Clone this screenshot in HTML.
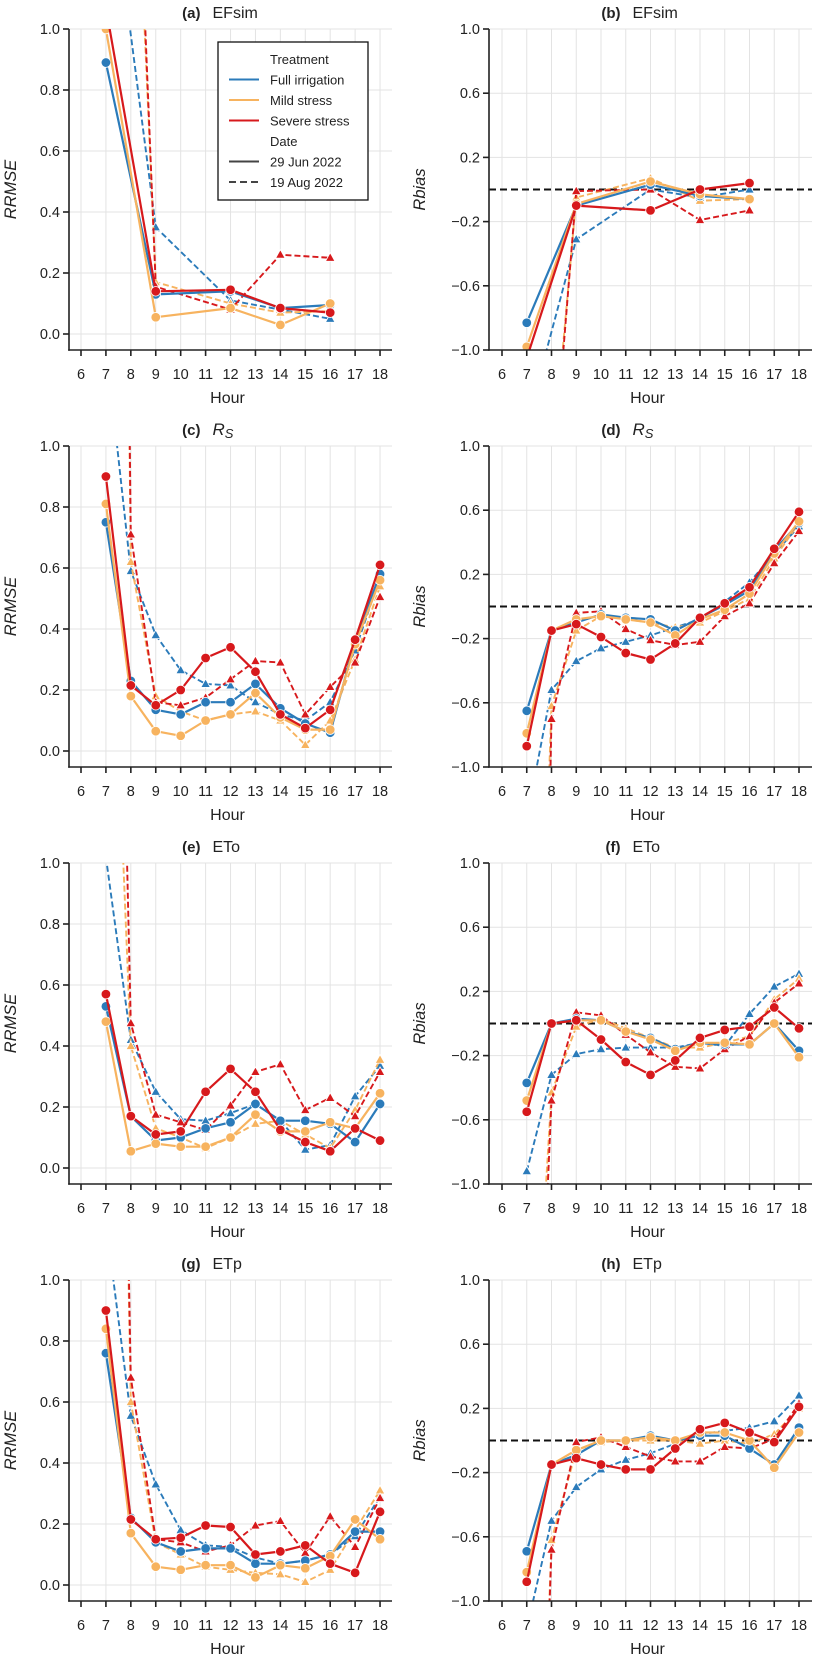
<!DOCTYPE html>
<html><head><meta charset="utf-8"><style>
html,body{margin:0;padding:0;background:#fff;width:816px;height:1664px;overflow:hidden}
svg{display:block}
text{font-family:"Liberation Sans",sans-serif;fill:#222}
</style></head><body>
<svg id="fig" width="816" height="1664" viewBox="0 0 816 1664" xmlns="http://www.w3.org/2000/svg" overflow="hidden"></svg>
<script>
// ---------- data ----------
const hoursEF = [7, 9, 12, 14, 16];
const hoursAll = [7, 8, 9, 10, 11, 12, 13, 14, 15, 16, 17, 18];
const xTicks = [6, 7, 8, 9, 10, 11, 12, 13, 14, 15, 16, 17, 18];
const rmseTicks = [0.0, 0.2, 0.4, 0.6, 0.8, 1.0];
const rmseTickLabels = ["0.0", "0.2", "0.4", "0.6", "0.8", "1.0"];
const biasTicks = [-1.0, -0.6, -0.2, 0.2, 0.6, 1.0];
const biasTickLabels = ["\u22121.0", "\u22120.6", "\u22120.2", "0.2", "0.6", "1.0"];
const treatments = ["Full irrigation", "Mild stress", "Severe stress"];
const dates = ["29 Jun 2022", "19 Aug 2022"];

// (a) EFsim RRMSE
const aFullJun = [0.89, 0.13, 0.14, 0.085, 0.095];
const aMildJun = [1.0, 0.055, 0.085, 0.03, 0.10];
const aSevJun = [1.07, 0.14, 0.145, 0.085, 0.07];
const aFullAug = [1.61, 0.35, 0.11, 0.08, 0.05];
const aMildAug = [3.86, 0.17, 0.10, 0.07, 0.075];
const aSevAug = [4.18, 0.155, 0.08, 0.26, 0.25];
// (b) EFsim Rbias
const bFullJun = [-0.83, -0.10, 0.03, -0.04, -0.06];
const bMildJun = [-0.98, -0.09, 0.05, -0.03, -0.06];
const bSevJun = [-1.05, -0.10, -0.13, 0.0, 0.04];
const bFullAug = [-1.46, -0.31, 0.0, -0.05, 0.0];
const bMildAug = [-3.5, -0.05, 0.07, -0.07, -0.06];
const bSevAug = [-3.8, -0.01, 0.0, -0.19, -0.13];
// (c) Rs RRMSE
const cFullJun = [0.75, 0.23, 0.135, 0.12, 0.16, 0.16, 0.22, 0.14, 0.09, 0.06, 0.36, 0.58];
const cMildJun = [0.81, 0.18, 0.065, 0.05, 0.10, 0.12, 0.19, 0.11, 0.07, 0.07, 0.35, 0.56];
const cSevJun = [0.90, 0.215, 0.15, 0.20, 0.305, 0.34, 0.26, 0.12, 0.075, 0.135, 0.365, 0.61];
const cFullAug = [1.335, 0.59, 0.38, 0.265, 0.22, 0.215, 0.16, 0.12, 0.10, 0.16, 0.33, 0.57];
const cMildAug = [8.0, 0.62, 0.18, 0.13, 0.10, 0.12, 0.13, 0.10, 0.02, 0.10, 0.30, 0.54];
const cSevAug = [8.0, 0.71, 0.16, 0.15, 0.175, 0.235, 0.295, 0.29, 0.12, 0.21, 0.29, 0.505];
// (d) Rs Rbias
const dFullJun = [-0.65, -0.15, -0.10, -0.05, -0.07, -0.08, -0.15, -0.07, 0.01, 0.10, 0.35, 0.52];
const dMildJun = [-0.79, -0.15, -0.08, -0.06, -0.08, -0.10, -0.18, -0.08, -0.02, 0.08, 0.33, 0.53];
const dSevJun = [-0.87, -0.15, -0.11, -0.19, -0.29, -0.33, -0.23, -0.07, 0.02, 0.12, 0.36, 0.59];
const dFullAug = [-1.32, -0.52, -0.34, -0.26, -0.22, -0.18, -0.13, -0.08, 0.03, 0.15, 0.33, 0.50];
const dMildAug = [-5.0, -0.62, -0.15, -0.06, -0.08, -0.10, -0.13, -0.10, -0.03, 0.05, 0.30, 0.52];
const dSevAug = [-8.0, -0.70, -0.04, -0.03, -0.14, -0.21, -0.24, -0.22, -0.06, 0.02, 0.27, 0.47];
// (e) ETo RRMSE
const eFullJun = [0.53, 0.17, 0.09, 0.10, 0.13, 0.15, 0.21, 0.155, 0.155, 0.145, 0.085, 0.21];
const eMildJun = [0.48, 0.055, 0.08, 0.07, 0.07, 0.10, 0.175, 0.12, 0.12, 0.15, 0.13, 0.245];
const eSevJun = [0.57, 0.17, 0.11, 0.12, 0.25, 0.325, 0.25, 0.125, 0.085, 0.055, 0.13, 0.09];
const eFullAug = [1.02, 0.42, 0.25, 0.16, 0.155, 0.18, 0.21, 0.155, 0.06, 0.075, 0.235, 0.335];
const eMildAug = [2.4, 0.40, 0.13, 0.10, 0.065, 0.10, 0.145, 0.155, 0.11, 0.065, 0.19, 0.355];
const eSevAug = [4.0, 0.475, 0.175, 0.15, 0.125, 0.205, 0.315, 0.34, 0.19, 0.23, 0.17, 0.315];
// (f) ETo Rbias
const fFullJun = [-0.37, 0.0, 0.03, 0.02, -0.05, -0.09, -0.16, -0.12, -0.13, -0.13, 0.0, -0.17];
const fMildJun = [-0.48, 0.0, 0.02, 0.02, -0.05, -0.10, -0.17, -0.12, -0.12, -0.13, 0.0, -0.21];
const fSevJun = [-0.55, 0.0, 0.02, -0.10, -0.24, -0.32, -0.23, -0.09, -0.04, -0.02, 0.10, -0.03];
const fFullAug = [-0.92, -0.32, -0.19, -0.16, -0.15, -0.15, -0.15, -0.12, -0.14, 0.06, 0.23, 0.31];
const fMildAug = [-3.0, -0.43, -0.02, 0.03, -0.03, -0.09, -0.15, -0.15, -0.12, -0.08, 0.15, 0.28];
const fSevAug = [-4.0, -0.48, 0.07, 0.05, -0.07, -0.18, -0.27, -0.28, -0.16, -0.08, 0.13, 0.25];
// (g) ETp RRMSE
const gFullJun = [0.76, 0.22, 0.14, 0.11, 0.12, 0.12, 0.07, 0.07, 0.08, 0.10, 0.175, 0.175];
const gMildJun = [0.84, 0.17, 0.06, 0.05, 0.065, 0.065, 0.025, 0.065, 0.055, 0.095, 0.215, 0.15];
const gSevJun = [0.90, 0.215, 0.15, 0.155, 0.195, 0.19, 0.10, 0.11, 0.13, 0.07, 0.04, 0.24];
const gFullAug = [1.19, 0.555, 0.33, 0.18, 0.13, 0.125, 0.09, 0.07, 0.08, 0.10, 0.16, 0.29];
const gMildAug = [5.0, 0.60, 0.14, 0.10, 0.06, 0.05, 0.04, 0.035, 0.01, 0.05, 0.18, 0.31];
const gSevAug = [5.0, 0.68, 0.15, 0.14, 0.11, 0.13, 0.195, 0.21, 0.105, 0.225, 0.125, 0.285];
// (h) ETp Rbias
const hFullJun = [-0.69, -0.15, -0.09, 0.0, 0.0, 0.03, 0.0, 0.03, 0.03, -0.05, -0.15, 0.08];
const hMildJun = [-0.82, -0.15, -0.06, 0.0, 0.0, 0.02, 0.0, 0.05, 0.05, 0.0, -0.17, 0.05];
const hSevJun = [-0.88, -0.15, -0.11, -0.15, -0.18, -0.18, -0.05, 0.07, 0.11, 0.05, -0.01, 0.21];
const hFullAug = [-1.17, -0.50, -0.29, -0.18, -0.12, -0.08, -0.02, 0.04, 0.06, 0.08, 0.12, 0.28];
const hMildAug = [-5.0, -0.62, -0.06, -0.01, 0.0, 0.0, 0.0, -0.02, 0.0, -0.02, 0.04, 0.20];
const hSevAug = [-5.0, -0.68, -0.01, 0.02, -0.04, -0.10, -0.13, -0.13, -0.04, -0.05, 0.01, 0.23];

// ---------- drawing ----------
const NS = "http://www.w3.org/2000/svg";
const svg = document.getElementById("fig");
const COLORS = ["#2b7bba", "#f7b35f", "#d7191c"];
function mk(tag, attrs, parent) {
  const e = document.createElementNS(NS, tag);
  for (const k in attrs) e.setAttribute(k, attrs[k]);
  (parent || svg).appendChild(e);
  return e;
}
const panelDefs = [
  {lab: "(a)", ttl: "EFsim", kind: "rmse", col: 0, row: 0, hrs: hoursEF, s: [aFullJun, aMildJun, aSevJun, aFullAug, aMildAug, aSevAug], legend: true},
  {lab: "(b)", ttl: "EFsim", kind: "bias", col: 1, row: 0, hrs: hoursEF, s: [bFullJun, bMildJun, bSevJun, bFullAug, bMildAug, bSevAug]},
  {lab: "(c)", ttl: "RS", kind: "rmse", col: 0, row: 1, hrs: hoursAll, s: [cFullJun, cMildJun, cSevJun, cFullAug, cMildAug, cSevAug]},
  {lab: "(d)", ttl: "RS", kind: "bias", col: 1, row: 1, hrs: hoursAll, s: [dFullJun, dMildJun, dSevJun, dFullAug, dMildAug, dSevAug]},
  {lab: "(e)", ttl: "ETo", kind: "rmse", col: 0, row: 2, hrs: hoursAll, s: [eFullJun, eMildJun, eSevJun, eFullAug, eMildAug, eSevAug]},
  {lab: "(f)", ttl: "ETo", kind: "bias", col: 1, row: 2, hrs: hoursAll, s: [fFullJun, fMildJun, fSevJun, fFullAug, fMildAug, fSevAug]},
  {lab: "(g)", ttl: "ETp", kind: "rmse", col: 0, row: 3, hrs: hoursAll, s: [gFullJun, gMildJun, gSevJun, gFullAug, gMildAug, gSevAug]},
  {lab: "(h)", ttl: "ETp", kind: "bias", col: 1, row: 3, hrs: hoursAll, s: [hFullJun, hMildJun, hSevJun, hFullAug, hMildAug, hSevAug]}
];

panelDefs.forEach((p, pi) => {
  const left = p.col === 0 ? 69 : 489;
  const right = p.col === 0 ? 392 : 812;
  const x6 = p.col === 0 ? 81 : 502;
  const xStep = p.col === 0 ? 24.92 : 24.75;
  const top = 29 + 417 * p.row;
  const bottom = 350 + 417 * p.row;
  const xs = h => x6 + (h - 6) * xStep;
  let ys;
  if (p.kind === "rmse") {
    const y0 = 334 + 417 * p.row;
    ys = v => y0 - v * (y0 - top);
  } else {
    ys = v => top + (1 - v) / 2 * (bottom - top);
  }
  const g = mk("g", {});
  
  
  const clipId = "clip" + pi;
  const cp = mk("clipPath", {id: clipId}, g);
  mk("rect", {x: left, y: top, width: right - left, height: bottom - top}, cp);
  // grid
  const grid = mk("g", {stroke: "#e3e3e3", "stroke-width": 1}, g);
  
  
  xTicks.forEach(t => mk("line", {x1: xs(t), x2: xs(t), y1: top, y2: bottom}, grid));
  const yt = p.kind === "rmse" ? rmseTicks : biasTicks;
  const ytl = p.kind === "rmse" ? rmseTickLabels : biasTickLabels;
  yt.forEach(t => mk("line", {x1: left, x2: right, y1: ys(t), y2: ys(t)}, grid));
  // zero line
  if (p.kind === "bias") {
    const z = mk("line", {x1: left, x2: right, y1: ys(0), y2: ys(0), stroke: "#111", "stroke-width": 2, "stroke-dasharray": "7,4"}, g);
    
    
  }
  // series
  const sg = mk("g", {"clip-path": "url(#" + clipId + ")"}, g);
  const order = [3, 4, 5, 0, 1, 2];
  order.forEach(si => {
    const vals = p.s[si];
    const col = COLORS[si % 3];
    const dashed = si >= 3;
    const pts = p.hrs.map((h, i) => xs(h).toFixed(1) + "," + ys(vals[i]).toFixed(1)).join(" ");
    const ln = mk("polyline", {points: pts, fill: "none", stroke: col, "stroke-width": dashed ? 1.9 : 2.2, "stroke-dasharray": dashed ? "6,3" : "none", "stroke-linejoin": "round"}, sg);
    
    
    p.hrs.forEach((h, i) => {
      const cx = xs(h), cy = ys(vals[i]);
      let m;
      if (dashed) {
        const r = 5;
        m = mk("polygon", {points: `${cx},${cy - r} ${cx - r * 0.95},${cy + r * 0.7} ${cx + r * 0.95},${cy + r * 0.7}`, fill: col, stroke: "#fff", "stroke-width": 0.8}, sg);
      } else {
        m = mk("circle", {cx: cx, cy: cy, r: 4.8, fill: col, stroke: "#fff", "stroke-width": 0.8}, sg);
      }
      
      
    });
  });
  // axes
  const ax = mk("g", {stroke: "#222", "stroke-width": 1.6, fill: "none"}, g);
  
  
  mk("line", {x1: left, x2: left, y1: top, y2: bottom + 0.8}, ax);
  mk("line", {x1: left - 0.8, x2: right, y1: bottom, y2: bottom}, ax);
  xTicks.forEach(t => {
    mk("line", {x1: xs(t), x2: xs(t), y1: bottom, y2: bottom + 6}, ax);
    const tx = mk("text", {x: xs(t), y: bottom + 29, "text-anchor": "middle", "font-size": 14.5}, g);
    tx.textContent = String(t);
    
    
  });
  yt.forEach((t, i) => {
    mk("line", {x1: left - 6, x2: left, y1: ys(t), y2: ys(t)}, ax);
    const tx = mk("text", {x: left - 9, y: ys(t) + 5, "text-anchor": "end", "font-size": 14.5}, g);
    tx.textContent = ytl[i];
    
    
  });
  const xl = mk("text", {x: (left + right) / 2 - 3, y: bottom + 53, "text-anchor": "middle", "font-size": 16}, g);
  xl.textContent = "Hour";
  
  
  const ylx = p.col === 0 ? 16 : 425;
  const yl = mk("text", {x: ylx, y: (top + bottom) / 2, "text-anchor": "middle", "font-size": 16.5, "font-style": "italic", transform: `rotate(-90 ${ylx} ${(top + bottom) / 2})`}, g);
  yl.textContent = p.kind === "rmse" ? "RRMSE" : "Rbias";
  
  
  // title
  const cx = (left + right) / 2;
  const t1 = mk("text", {x: cx - 30, y: top - 11, "text-anchor": "end", "font-size": 15, "font-weight": "bold"}, g);
  t1.textContent = p.lab;
  
  
  const t2 = mk("text", {x: cx - 18, y: top - 11, "text-anchor": "start", "font-size": 16}, g);
  if (p.ttl === "RS") {
    const a = mk("tspan", {"font-style": "italic", "font-size": 17}, t2); a.textContent = "R";
    const b = mk("tspan", {"font-style": "italic", "font-size": 13, dy: 3}, t2); b.textContent = "S";
  } else t2.textContent = p.ttl;
  
  

  if (p.legend) {
    const lg = mk("g", {}, g);
    
    
    mk("rect", {x: 218, y: 42, width: 150, height: 158, fill: "#fff", stroke: "#111", "stroke-width": 1.3}, lg);
    const rows = [
      {t: "Treatment", c: null},
      {t: treatments[0], c: COLORS[0]},
      {t: treatments[1], c: COLORS[1]},
      {t: treatments[2], c: COLORS[2]},
      {t: "Date", c: null},
      {t: dates[0], c: "#444"},
      {t: dates[1], c: "#444", d: true}
    ];
    rows.forEach((r, i) => {
      const yy = 59 + i * 20.5;
      if (r.c) {
        const l = mk("line", {x1: 229, x2: 259, y1: yy, y2: yy, stroke: r.c, "stroke-width": 2, "stroke-dasharray": r.d ? "7,4" : "none"}, lg);
        
        
      }
      const tx = mk("text", {x: 270, y: yy + 5, "font-size": 13}, lg);
      tx.textContent = r.t;
      
      
    });
  }
});
</script>
</body></html>
